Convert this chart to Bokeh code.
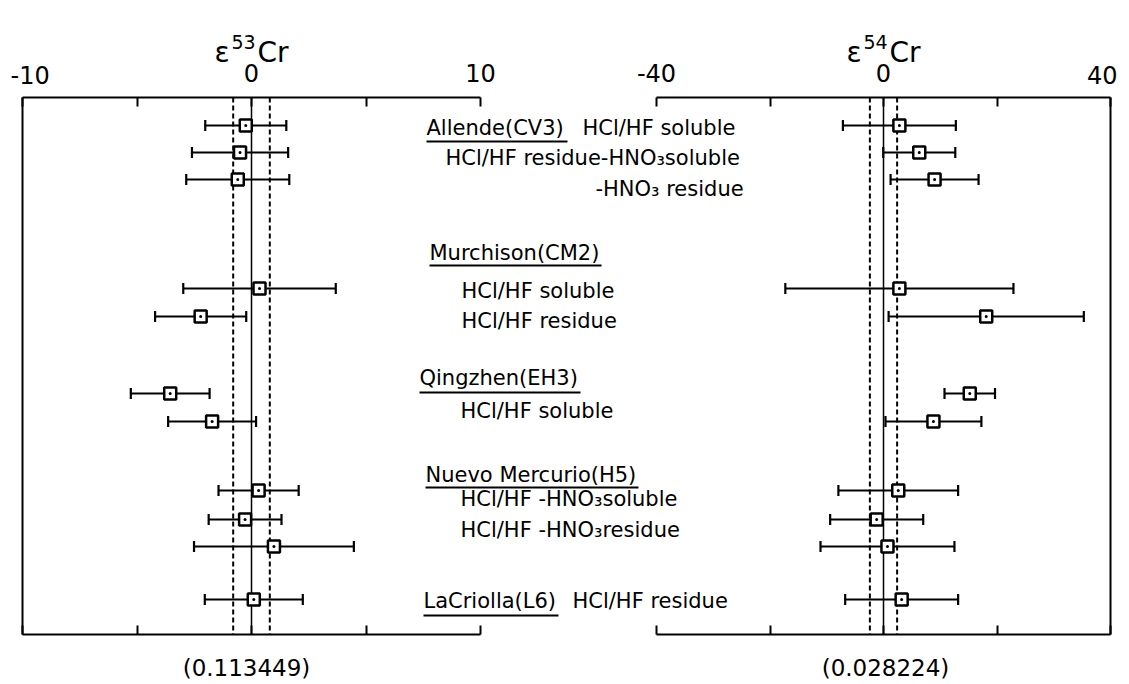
from bokeh.plotting import figure
from bokeh.models import (Range1d, LinearAxis, FixedTicker, Whisker, TeeHead,
                          ColumnDataSource, Label)
from bokeh.embed import file_html
from bokeh.resources import INLINE
from bokeh.core.properties import value

FONT = "DejaVu Sans"

# ---------------- data ----------------
fractions = [
    "Allende(CV3) HCl/HF soluble",
    "Allende(CV3) HCl/HF residue-HNO3 soluble",
    "Allende(CV3) HCl/HF residue-HNO3 residue",
    "Murchison(CM2) HCl/HF soluble",
    "Murchison(CM2) HCl/HF residue",
    "Qingzhen(EH3) a",
    "Qingzhen(EH3) HCl/HF soluble",
    "Nuevo Mercurio(H5) a",
    "Nuevo Mercurio(H5) HCl/HF-HNO3 soluble",
    "Nuevo Mercurio(H5) HCl/HF-HNO3 residue",
    "LaCriolla(L6) HCl/HF residue",
]
e53_val = [-0.25, -0.5, -0.6, 0.35, -2.22, -3.55, -1.72, 0.31, -0.28, 0.98, 0.1]
e53_err = [1.77, 2.1, 2.25, 3.33, 1.99, 1.72, 1.92, 1.75, 1.59, 3.49, 2.14]
e54_val = [2.8, 6.3, 9.0, 2.8, 18.1, 15.2, 8.8, 2.6, -1.2, 0.7, 3.2]
e54_err = [9.95, 6.35, 7.75, 20.1, 17.2, 4.45, 8.45, 10.55, 8.2, 11.8, 9.95]

tick53 = [-10, -5, 0, 5, 10]
tick53_text = ["-10", "", "0", "", "10"]
tick54 = [-40, -20, 0, 20, 40]
tick54_text = ["-40", "", "0", "", "40"]
ref53_2sd = 0.8
ref54_2sd = 2.4
norm53 = "(0.113449)"
norm54 = "(0.028224)"

labels_txt = ["Allende(CV3)", "HCl/HF soluble", "HCl/HF residue-HNO\u2083soluble",
              "-HNO\u2083 residue", "Murchison(CM2)", "HCl/HF soluble", "HCl/HF residue",
              "Qingzhen(EH3)", "HCl/HF soluble", "Nuevo Mercurio(H5)",
              "HCl/HF -HNO\u2083soluble", "HCl/HF -HNO\u2083residue",
              "LaCriolla(L6)", "HCl/HF residue"]

# ---------------- layout (page pixels) ----------------
W, H = 1129, 684
row_y = [125, 152, 179, 288, 316, 393, 421, 490, 519, 546, 599]
labels_x = [426, 582, 445, 595, 429, 461, 461, 419, 460, 425, 460, 460, 423, 572]
labels_base = [135, 135, 165, 196, 260, 298, 328, 385, 418, 482, 506, 537, 608, 608]
ul_x0 = [426, 429, 419, 425, 423]
ul_x1 = [567, 601, 580, 638, 558]
ul_y = [141, 265, 392, 487, 615]

PX53, ZERO53 = 22.9, 251     # px per unit, px of 0 (left panel)
PX54, ZERO54 = 5.675, 883    # px per unit, px of 0 (right panel)
PANEL_T, PANEL_B = 97, 634
MID = 0.35                   # baseline-to-middle offset, in em
FS_TICK = 24


def mid(baseline, fs):
    return baseline - MID * fs


p = figure(width=W, height=H,
           x_range=Range1d(0, W), y_range=Range1d(H, 0),
           x_axis_location=None, y_axis_location=None,
           toolbar_location=None, output_backend="svg",
           min_border=0)
p.outline_line_color = None
p.background_fill_color = "white"
p.border_fill_color = "white"
p.xgrid.visible = False
p.ygrid.visible = False

p.extra_x_ranges = {
    "e53": Range1d(-ZERO53 / PX53, (W - ZERO53) / PX53),
    "e54": Range1d(-ZERO54 / PX54, (W - ZERO54) / PX54),
}


def add_axis(rng, ticks, bounds, side, loc, overrides):
    ax = LinearAxis(x_range_name=rng, fixed_location=loc, bounds=bounds,
                    ticker=FixedTicker(ticks=ticks, minor_ticks=[]))
    ax.major_label_overrides = overrides
    ax.axis_line_width = 2
    ax.axis_line_color = "black"
    ax.major_tick_line_width = 2
    ax.major_tick_line_color = "black"
    ax.major_tick_in = 9
    ax.major_tick_out = 0
    ax.minor_tick_line_color = None
    ax.major_label_text_font = FONT
    ax.major_label_text_font_size = f"{FS_TICK}px"
    ax.major_label_text_color = "black"
    ax.major_label_standoff = 16
    p.add_layout(ax, side)


top53 = {t: s for t, s in zip(tick53, tick53_text)}
top53[tick53[0]] = ""
top54 = {t: s for t, s in zip(tick54, tick54_text)}
top54[tick54[-1]] = ""
add_axis("e53", tick53, (tick53[0], tick53[-1]), "above", PANEL_T, top53)
add_axis("e54", tick54, (tick54[0], tick54[-1]), "above", PANEL_T, top54)
add_axis("e53", tick53, (tick53[0], tick53[-1]), "below", PANEL_B, {t: "" for t in tick53})
add_axis("e54", tick54, (tick54[0], tick54[-1]), "below", PANEL_B, {t: "" for t in tick54})

# panel side borders (axes without ticks)
for rng, loc, side in (("e53", tick53[0], "left"), ("e54", tick54[-1], "right")):
    ax = LinearAxis(x_range_name=rng, fixed_location=loc, bounds=(PANEL_T, PANEL_B),
                    ticker=FixedTicker(ticks=[], minor_ticks=[]))
    ax.axis_line_width = 2
    ax.axis_line_color = "black"
    ax.major_tick_line_color = None
    ax.minor_tick_line_color = None
    p.add_layout(ax, side)

# reference lines (mean and 2SD of standards)
for rng, sd in (("e53", ref53_2sd), ("e54", ref54_2sd)):
    p.segment(x0=[0], x1=[0], y0=[PANEL_T], y1=[PANEL_B], x_range_name=rng,
              line_color="black", line_width=1.5)
    p.segment(x0=[-sd, sd], x1=[-sd, sd], y0=[PANEL_T] * 2, y1=[PANEL_B] * 2,
              x_range_name=rng, line_color="black", line_width=2, line_dash="5 3")


def label(rng, x, dx, baseline, text, fs, align="left"):
    p.add_layout(Label(x=x, x_range_name=rng, x_offset=dx, y=mid(baseline, fs), text=text,
                       text_align=align, text_baseline="middle",
                       text_font=FONT, text_font_size=f"{fs}px", text_color="black"))


# edge tick labels
label("e53", tick53[0], -12, 83, tick53_text[0], FS_TICK, "left")
label("e54", tick54[-1], 7, 83, tick54_text[-1], FS_TICK, "right")

# titles
for rng, iso in (("e53", "53"), ("e54", "54")):
    label(rng, 0, -37, 62, "\u03b5", 28)
    label(rng, 0, -20, 48, iso, 19)
    label(rng, 0, 6, 62, "Cr", 28)

# bottom normalisation values
label("e53", 0, -5, 676, norm53, 23, "center")
label("e54", 0, 2, 676, norm54, 23, "center")

# data
for rng, vals, errs in (("e53", e53_val, e53_err), ("e54", e54_val, e54_err)):
    src = ColumnDataSource(dict(name=fractions, y=row_y, v=vals,
                                lo=[v - e for v, e in zip(vals, errs)],
                                hi=[v + e for v, e in zip(vals, errs)]))
    p.add_layout(Whisker(source=src, base="y", lower="lo", upper="hi", dimension="width",
                         x_range_name=rng, line_color="black", line_width=2.2,
                         lower_head=TeeHead(size=11, line_width=2.2, line_color="black"),
                         upper_head=TeeHead(size=11, line_width=2.2, line_color="black")))
    p.scatter("v", "y", source=src, x_range_name=rng, marker="square_dot", size=12,
              line_width=2.5, line_color="black", fill_color="white")

# sample labels
FS_LAB = 21
p.text(x=labels_x, y=[mid(b, FS_LAB) for b in labels_base], text=labels_txt,
       text_font=value(FONT), text_font_size=value(f"{FS_LAB}px"),
       text_baseline="middle", text_align="left", text_color="black")
p.segment(x0=ul_x0, y0=ul_y, x1=ul_x1, y1=ul_y, line_color="black", line_width=2)

open("out.html", "w").write(file_html(p, INLINE))
